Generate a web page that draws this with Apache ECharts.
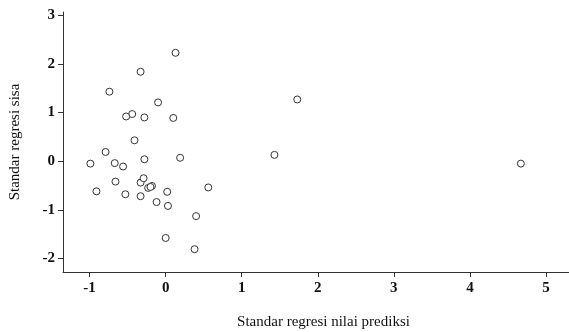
<!DOCTYPE html>
<html>
<head>
<meta charset="utf-8">
<script src="https://cdn.jsdelivr.net/npm/echarts@6/dist/echarts.min.js"></script>
<style>
  html, body { margin: 0; padding: 0; background: #fff; }
  #chart { width: 569px; height: 332px; }
</style>
</head>
<body>
<div id="chart"></div>
<script>
// standardized predicted value (x) and standardized residual (y)
var predX = [0.13, -0.33, -0.74, -0.10, -0.44, -0.52, -0.28, 0.10, -0.41, -0.79,
             -0.99, -0.67, -0.56, -0.28, 0.19, -0.91, -0.66, -0.53, -0.33, -0.29,
             -0.33, -0.23, -0.18, -0.20, 0.02, 0.56, -0.12, 0.03, 0.40, 0.00,
             0.38, 1.73, 1.43, 4.67];
var residY = [2.23, 1.84, 1.43, 1.21, 0.97, 0.92, 0.90, 0.89, 0.43, 0.19,
              -0.05, -0.04, -0.11, 0.04, 0.07, -0.62, -0.42, -0.68, -0.44, -0.35,
              -0.72, -0.55, -0.51, -0.53, -0.63, -0.54, -0.84, -0.92, -1.13, -1.58,
              -1.81, 1.27, 0.13, -0.05];
var xTicks = [-1, 0, 1, 2, 3, 4, 5];
var yTicks = [-2, -1, 0, 1, 2, 3];

var points = predX.map(function(v, i) {
  return [v, residY[i]];
});

var serif = '"Liberation Serif", "DejaVu Serif", serif';
var axisCol = '#333';

var chart = echarts.init(document.getElementById('chart'));
var option = {
  animation: false,
  backgroundColor: '#fff',
  grid: {
    left: 63,
    right: -15,
    top: 12,
    bottom: 60,
    containLabel: false,
    outerBoundsMode: 'none'
  },
  xAxis: {
    type: 'value',
    min: -1.35,
    max: 5.5,
    name: 'Standar regresi nilai prediksi',
    nameLocation: 'middle',
    nameGap: 43,
    nameTextStyle: { fontFamily: serif, fontSize: 15, color: '#111' },
    axisLine: { show: true, onZero: false, lineStyle: { color: axisCol, width: 1 } },
    axisTick: { show: true, length: 5, customValues: xTicks, lineStyle: { color: axisCol } },
    axisLabel: {
      customValues: xTicks,
      margin: 9,
      fontFamily: serif,
      fontSize: 15,
      fontWeight: 'bold',
      color: '#111'
    },
    splitLine: { show: false }
  },
  yAxis: {
    type: 'value',
    min: -2.28,
    max: 3.07,
    name: 'Standar regresi sisa',
    nameLocation: 'middle',
    nameGap: 40,
    nameRotate: 90,
    nameTextStyle: { fontFamily: serif, fontSize: 15, color: '#111' },
    axisLine: { show: true, onZero: false, lineStyle: { color: axisCol, width: 1 } },
    axisTick: { show: true, length: 5, customValues: yTicks, lineStyle: { color: axisCol } },
    axisLabel: {
      customValues: yTicks,
      margin: 8,
      fontFamily: serif,
      fontSize: 15,
      fontWeight: 'bold',
      color: '#111'
    },
    splitLine: { show: false }
  },
  series: [
    {
      type: 'scatter',
      symbol: 'circle',
      symbolSize: 7,
      itemStyle: { color: '#fff', borderColor: '#333', borderWidth: 1, opacity: 1 },
      data: points
    }
  ]
};
chart.setOption(option);
</script>
</body>
</html>
